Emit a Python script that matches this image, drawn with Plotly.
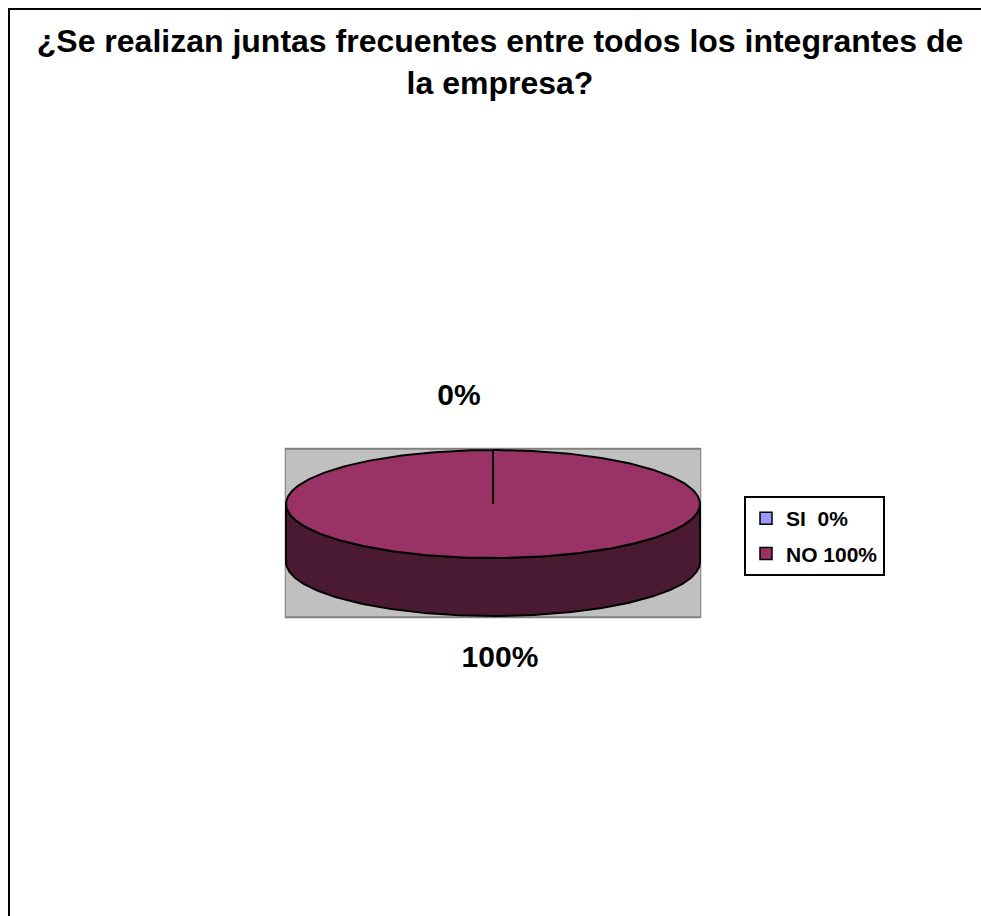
import numpy as np
import plotly.graph_objects as go

# ---- data ----
categories = ["SI\u00a0", "NO"]
values = [0, 100]
colors_top = ["#9999FF", "#993366"]
colors_side = ["#4C4C80", "#4A1A33"]
title_text = "¿Se realizan juntas frecuentes entre todos los integrantes de<br>la empresa?"

# ---- geometry / style ----
W, H = 981, 916
OFF = 0                  # body margin is removed by the post script


def px(x):
    return (x - OFF) / W


def py(y):
    return 1 - (y - OFF) / H


SCALE = 207.0            # pixels per unit (pie radius = 1 unit)
CY = 504.0               # page y of the pie centre
RY = 54 / SCALE          # ellipse vertical radius
DEPTH = 58 / SCALE       # thickness of the pie
START = 90.0             # first slice starts at 12 o'clock, clockwise
FONT = "Liberation Sans, Arial, sans-serif"
Y_RANGE = [-1.0, 0.75]
X_RANGE = [-1.0 - 0.006, 1.0 + 0.006]

total = float(sum(values))
fig = go.Figure()


def arc(a_from, a_to, dy=0.0, n=200):
    t = np.radians(np.linspace(a_from, a_to, n))
    return np.cos(t), RY * np.sin(t) + dy


cum = 0.0
tops = []
lab_x, lab_y, lab_t = [], [], []
for cat, v, ct, cs in zip(categories, values, colors_top, colors_side):
    a0 = START - 360.0 * cum / total
    a1 = a0 - 360.0 * v / total
    cum += v
    # visible front wall: intersection of [a1, a0] with front half (sin < 0)
    for k in range(-2, 3):
        lo = max(a1, -180.0 - 360.0 * k)
        hi = min(a0, 0.0 - 360.0 * k)
        if hi > lo:
            xt, yt = arc(lo, hi)
            xb, yb = arc(hi, lo, dy=-DEPTH)
            fig.add_trace(go.Scatter(
                x=np.concatenate([xt, xb, xt[:1]]),
                y=np.concatenate([yt, yb, yt[:1]]),
                mode="lines", fill="toself", fillcolor=cs,
                line=dict(color="black", width=2),
                hoverinfo="skip", showlegend=False))
    if v > 0:
        xa, ya = arc(a0, a1, n=400)
        tops.append((np.concatenate([[0], xa, [0]]),
                     np.concatenate([[0], ya, [0]]), ct))
    mid = np.radians((a0 + a1) / 2)
    s = np.sin(mid)
    if s >= 0:
        lab_x.append(np.cos(mid) - 34 / SCALE)
        lab_y.append(RY * s + 0.256)
    else:
        lab_x.append(np.cos(mid) + 7 / SCALE)
        lab_y.append(RY * s - DEPTH - 0.208)
    lab_t.append(f"<b>{round(100 * v / total)}%</b>")

for x, y, c in tops:
    fig.add_trace(go.Scatter(x=x, y=y, mode="lines", fill="toself",
                             fillcolor=c, line=dict(color="black", width=2),
                             hoverinfo="skip", showlegend=False))

# data labels
fig.add_trace(go.Scatter(x=lab_x, y=lab_y, text=lab_t, mode="text",
                         textposition="middle center",
                         textfont=dict(family=FONT, size=30, color="black"),
                         hoverinfo="skip", showlegend=False))

# legend entries
for i, (cat, v, ct) in enumerate(zip(categories, values, colors_top)):
    fig.add_trace(go.Scatter(
        x=[None], y=[None], mode="markers", legendgroup=f"g{i}",
        name=f"<b>{cat} {round(100 * v / total)}%</b>",
        marker=dict(symbol="square", size=12, color=ct,
                    line=dict(color="black", width=1.5))))

# axis domains in page pixels
x_left = 493 - SCALE * (0 - X_RANGE[0])
x_right = 493 + SCALE * X_RANGE[1]
y_top = CY - SCALE * Y_RANGE[1]
y_bot = CY - SCALE * Y_RANGE[0]
pad = 0.006

axis_common = dict(showgrid=False, zeroline=False, showticklabels=False,
                   showline=False, fixedrange=True)
fig.update_layout(
    width=W, height=H,
    margin=dict(l=0, r=0, t=0, b=0),
    paper_bgcolor="white",
    plot_bgcolor="rgba(0,0,0,0)",
    title=dict(text=f"<b>{title_text}</b>", x=px(500),
               xanchor="center", y=py(52), yanchor="top", yref="container",
               font=dict(family=FONT, size=32, color="black")),
    xaxis=dict(domain=[px(x_left), px(x_right)], range=X_RANGE, **axis_common),
    yaxis=dict(domain=[py(y_bot), py(y_top)], range=Y_RANGE, **axis_common),
    showlegend=True,
    legend=dict(x=px(744), y=py(496), xanchor="left", yanchor="top",
                bordercolor="black", borderwidth=2, bgcolor="white",
                font=dict(family=FONT, size=21, color="black"),
                itemwidth=30, tracegroupgap=5, traceorder="grouped"),
    shapes=[
        # plot area (grey box around the pie)
        dict(type="rect", xref="x", yref="y",
             x0=X_RANGE[0], x1=X_RANGE[1],
             y0=-(RY + DEPTH) - pad, y1=RY + pad,
             line=dict(color="#808080", width=2), fillcolor="#C0C0C0",
             layer="below"),
        # chart border (runs off the right and bottom edges)
        dict(type="rect", xref="paper", yref="paper",
             x0=px(9), x1=1.05, y0=-0.05, y1=py(9),
             line=dict(color="black", width=2), fillcolor="rgba(0,0,0,0)",
             layer="below"),
    ],
)

fig.write_html(
    "out.html",
    config={"displayModeBar": False},
    post_script="document.body.style.margin='0';"
                "document.body.style.overflow='hidden';",
)
